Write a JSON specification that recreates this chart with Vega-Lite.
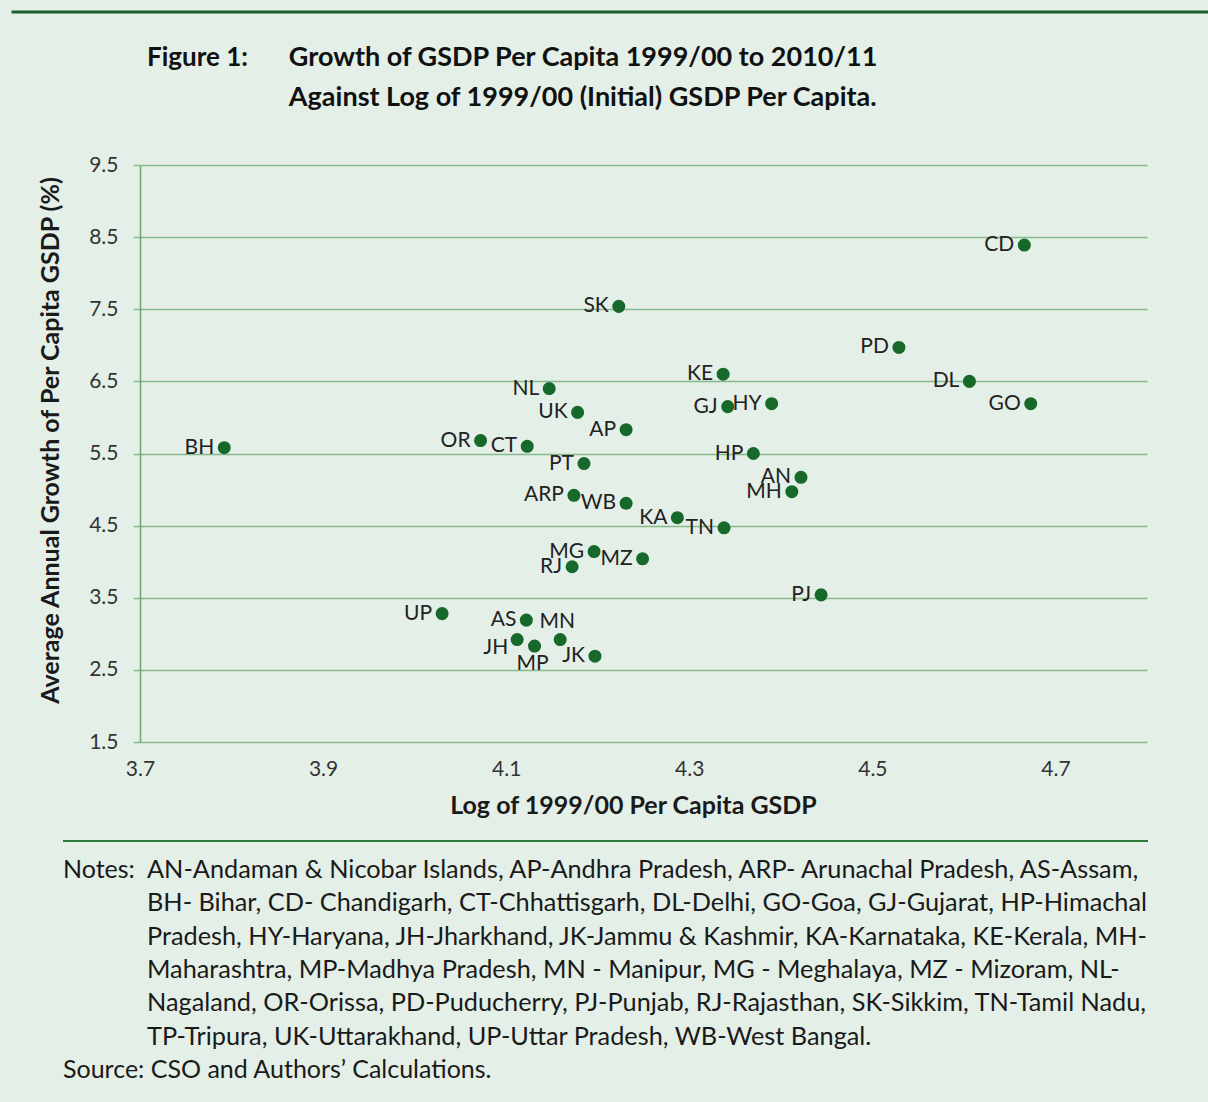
{
  "$schema": "https://vega.github.io/schema/vega-lite/v6.json",
  "padding": {"left": 10, "top": 10, "right": 0, "bottom": 0},
  "background": "#e4efe7",
  "spacing": 22,
  "config": {
    "view": {"stroke": null},
    "font": "Lato",
    "text": {"font": "Lato"}
  },
  "vconcat": [
    {
      "width": 1068,
      "height": 120,
      "data": {"values": [
        {"line": 1, "part": "figure", "text": "Figure 1:"},
        {"line": 1, "part": "title", "text": "Growth of GSDP Per Capita 1999/00 to 2010/11"},
        {"line": 2, "part": "title", "text": "Against Log of 1999/00 (Initial) GSDP Per Capita."}
      ]},
      "layer": [
        {
          "data": {"values": [{}]},
          "mark": {"type": "rule", "color": "#1e5e2d", "strokeWidth": 3},
          "encoding": {
            "x": {"datum": 0, "type": "quantitative", "scale": {"domain": [0, 1], "range": [-128.5, 1068], "nice": false, "zero": false}, "axis": null},
            "x2": {"datum": 1},
            "y": {"datum": -0.15, "type": "quantitative", "scale": {"domain": [-0.15, 2.85], "reverse": true, "nice": false, "zero": false}, "axis": null}
          }
        },
        {
          "transform": [{"filter": "datum.part == 'figure'"}],
          "mark": {"type": "text", "align": "left", "baseline": "middle", "fontSize": 26, "fontWeight": "bold", "color": "#111111"},
          "encoding": {
            "x": {"datum": 0.1133, "type": "quantitative", "axis": null},
            "y": {"field": "line", "type": "quantitative", "axis": null},
            "text": {"field": "text"}
          }
        },
        {
          "transform": [{"filter": "datum.part == 'title'"}],
          "mark": {"type": "text", "align": "left", "baseline": "middle", "fontSize": 27, "fontWeight": "bold", "color": "#111111"},
          "encoding": {
            "x": {"datum": 0.2318, "type": "quantitative", "axis": null},
            "y": {"field": "line", "type": "quantitative", "axis": null},
            "text": {"field": "text"}
          }
        }
      ]
    },
    {
      "width": 1007,
      "height": 577,
      "data": {"values": [
        {"code": "CD", "log_gsdp": 4.666, "growth": 8.39},
        {"code": "SK", "log_gsdp": 4.223, "growth": 7.54},
        {"code": "PD", "log_gsdp": 4.529, "growth": 6.97},
        {"code": "KE", "log_gsdp": 4.337, "growth": 6.60},
        {"code": "NL", "log_gsdp": 4.147, "growth": 6.40},
        {"code": "DL", "log_gsdp": 4.606, "growth": 6.50},
        {"code": "GJ", "log_gsdp": 4.342, "growth": 6.15},
        {"code": "HY", "log_gsdp": 4.390, "growth": 6.19},
        {"code": "GO", "log_gsdp": 4.673, "growth": 6.19},
        {"code": "UK", "log_gsdp": 4.178, "growth": 6.07},
        {"code": "AP", "log_gsdp": 4.231, "growth": 5.83},
        {"code": "BH", "log_gsdp": 3.792, "growth": 5.58},
        {"code": "OR", "log_gsdp": 4.072, "growth": 5.68},
        {"code": "CT", "log_gsdp": 4.123, "growth": 5.60},
        {"code": "PT", "log_gsdp": 4.185, "growth": 5.36},
        {"code": "HP", "log_gsdp": 4.370, "growth": 5.50},
        {"code": "AN", "log_gsdp": 4.422, "growth": 5.17},
        {"code": "MH", "log_gsdp": 4.412, "growth": 4.97},
        {"code": "ARP", "log_gsdp": 4.174, "growth": 4.92},
        {"code": "WB", "log_gsdp": 4.231, "growth": 4.81},
        {"code": "KA", "log_gsdp": 4.287, "growth": 4.61},
        {"code": "TN", "log_gsdp": 4.338, "growth": 4.47},
        {"code": "MG", "log_gsdp": 4.196, "growth": 4.14},
        {"code": "MZ", "log_gsdp": 4.249, "growth": 4.04},
        {"code": "RJ", "log_gsdp": 4.172, "growth": 3.93},
        {"code": "PJ", "log_gsdp": 4.444, "growth": 3.54},
        {"code": "UP", "log_gsdp": 4.030, "growth": 3.28},
        {"code": "AS", "log_gsdp": 4.122, "growth": 3.19},
        {"code": "JH", "log_gsdp": 4.112, "growth": 2.92},
        {"code": "MN", "log_gsdp": 4.159, "growth": 2.92},
        {"code": "MP", "log_gsdp": 4.131, "growth": 2.83},
        {"code": "JK", "log_gsdp": 4.197, "growth": 2.69}
      ]},
      "encoding": {
        "x": {
          "field": "log_gsdp", "type": "quantitative",
          "scale": {"domain": [3.7, 4.8], "nice": false, "zero": false},
          "axis": {
            "title": "Log of 1999/00 Per Capita GSDP",
            "values": [3.7, 3.9, 4.1, 4.3, 4.5, 4.7],
            "format": ".1f",
            "grid": false, "domain": false, "ticks": false,
            "labelFlush": false,
            "labelPadding": 16, "labelFontSize": 21, "labelColor": "#333333",
            "titleFontSize": 25, "titleFontWeight": "bold", "titleColor": "#1a1a1a",
            "titlePadding": 14, "titleX": 493
          }
        },
        "y": {
          "field": "growth", "type": "quantitative",
          "scale": {"domain": [1.5, 9.5], "nice": false, "zero": false},
          "axis": {
            "title": "Average Annual Growth of Per Capita GSDP (%)",
            "values": [1.5, 2.5, 3.5, 4.5, 5.5, 6.5, 7.5, 8.5, 9.5],
            "format": ".1f",
            "labelFlush": false,
            "grid": true, "gridColor": "#86b98c", "gridWidth": 1.5,
            "domain": true, "domainColor": "#6ea676", "domainWidth": 1.5,
            "ticks": true, "tickSize": 7, "tickColor": "#86b98c", "tickWidth": 1.5,
            "labelPadding": 15, "labelFontSize": 21, "labelColor": "#333333",
            "titleFontSize": 25, "titleFontWeight": "bold", "titleColor": "#1a1a1a",
            "titlePadding": 25, "titleY": 275
          }
        }
      },
      "layer": [
        {
          "mark": {"type": "point", "filled": true, "size": 170, "color": "#17692b", "opacity": 1}
        },
        {
          "transform": [{"filter": "datum.code != 'MN' && datum.code != 'MP' && datum.code != 'JH'"}],
          "mark": {"type": "text", "align": "right", "baseline": "middle", "dx": -10, "fontSize": 21, "color": "#222222"},
          "encoding": {"text": {"field": "code"}}
        },
        {
          "transform": [{"filter": "datum.code == 'JH'"}],
          "mark": {"type": "text", "align": "right", "baseline": "middle", "dx": -9, "dy": 8, "fontSize": 21, "color": "#222222"},
          "encoding": {"text": {"field": "code"}}
        },
        {
          "transform": [{"filter": "datum.code == 'MN'"}],
          "mark": {"type": "text", "align": "center", "baseline": "bottom", "dx": -3, "dy": -8, "fontSize": 21, "color": "#222222"},
          "encoding": {"text": {"field": "code"}}
        },
        {
          "transform": [{"filter": "datum.code == 'MP'"}],
          "mark": {"type": "text", "align": "center", "baseline": "top", "dx": -2, "dy": 7, "fontSize": 21, "color": "#222222"},
          "encoding": {"text": {"field": "code"}}
        }
      ]
    },
    {
      "width": 1008,
      "height": 261,
      "data": {"values": [
        {"line": 1, "part": "label", "text": "Notes:"},
        {"line": 1, "part": "body", "text": "AN-Andaman & Nicobar Islands, AP-Andhra Pradesh, ARP- Arunachal Pradesh, AS-Assam,"},
        {"line": 2, "part": "body", "text": "BH- Bihar, CD- Chandigarh, CT-Chhattisgarh, DL-Delhi, GO-Goa, GJ-Gujarat, HP-Himachal"},
        {"line": 3, "part": "body", "text": "Pradesh, HY-Haryana, JH-Jharkhand, JK-Jammu & Kashmir, KA-Karnataka, KE-Kerala, MH-"},
        {"line": 4, "part": "body", "text": "Maharashtra, MP-Madhya Pradesh, MN - Manipur, MG - Meghalaya, MZ - Mizoram, NL-"},
        {"line": 5, "part": "body", "text": "Nagaland,  OR-Orissa, PD-Puducherry, PJ-Punjab, RJ-Rajasthan, SK-Sikkim, TN-Tamil Nadu,"},
        {"line": 6, "part": "body", "text": "TP-Tripura, UK-Uttarakhand, UP-Uttar Pradesh, WB-West Bangal."},
        {"line": 7, "part": "label", "text": "Source: CSO and Authors’ Calculations."}
      ]},
      "layer": [
        {
          "data": {"values": [{}]},
          "mark": {"type": "rule", "color": "#2d7a3a", "strokeWidth": 2},
          "encoding": {
            "x": {"datum": 0, "type": "quantitative", "scale": {"domain": [0, 1], "range": [-77, 1008], "nice": false, "zero": false}, "axis": null},
            "x2": {"datum": 1},
            "y": {"datum": 0.13, "type": "quantitative", "scale": {"domain": [0.13, 7.96], "reverse": true, "nice": false, "zero": false}, "axis": null}
          }
        },
        {
          "transform": [{"filter": "datum.part == 'label'"}],
          "mark": {"type": "text", "align": "left", "baseline": "middle", "fontSize": 25, "color": "#1a1a1a"},
          "encoding": {
            "x": {"datum": 0, "type": "quantitative", "axis": null},
            "y": {"field": "line", "type": "quantitative", "axis": null},
            "text": {"field": "text"}
          }
        },
        {
          "transform": [{"filter": "datum.part == 'body'"}],
          "mark": {"type": "text", "align": "left", "baseline": "middle", "fontSize": 25.3, "color": "#1a1a1a"},
          "encoding": {
            "x": {"datum": 0.0774, "type": "quantitative", "axis": null},
            "y": {"field": "line", "type": "quantitative", "axis": null},
            "text": {"field": "text"}
          }
        }
      ]
    }
  ]
}
